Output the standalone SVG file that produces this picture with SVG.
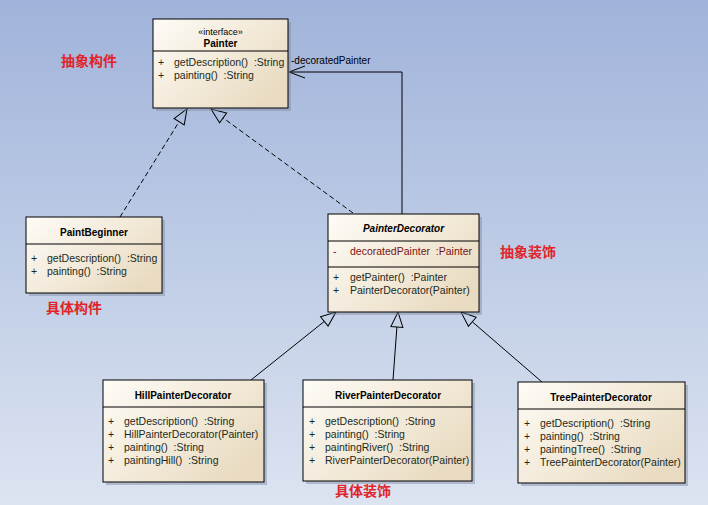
<svg xmlns="http://www.w3.org/2000/svg" width="708" height="505" viewBox="0 0 708 505" xml:space="preserve">
<defs>
<linearGradient id="bg" x1="0" y1="0" x2="0" y2="1">
<stop offset="0" stop-color="#a0b3da"/>
<stop offset="1" stop-color="#dce4f1"/>
</linearGradient>
<linearGradient id="box" x1="0" y1="0" x2="1" y2="0.7">
<stop offset="0" stop-color="#fefcf7"/>
<stop offset="1" stop-color="#e9dbc1"/>
</linearGradient>
<marker id="tri" markerUnits="userSpaceOnUse" markerWidth="18" markerHeight="14" refX="0" refY="7" orient="auto" viewBox="-1 0 18 14">
<path d="M0,1 L15,7 L0,13 Z" fill="none" stroke="#000" stroke-width="1" stroke-dasharray="none"/>
</marker>
<style>
.shadow{fill:#7f8aa0;opacity:0.45}
.b{fill:url(#box);stroke:#000;stroke-width:1}
.d{stroke:#000;stroke-width:1}
.t{font-family:"Liberation Sans",Arial,sans-serif;font-size:10px;font-weight:bold;fill:#000;text-anchor:middle}
.ti{font-family:"Liberation Sans",Arial,sans-serif;font-size:10px;font-weight:bold;font-style:italic;fill:#000;text-anchor:middle}
.s{font-family:"Liberation Sans",Arial,sans-serif;font-size:9px;fill:#000;text-anchor:middle}
.m{font-family:"Liberation Sans",Arial,sans-serif;font-size:10.5px;fill:#1c2a20;white-space:pre}
.a{font-family:"Liberation Sans",Arial,sans-serif;font-size:10.5px;fill:#7a1212;white-space:pre}
.lbl{font-family:"Liberation Sans",Arial,sans-serif;font-size:10px;fill:#000}
.cn{font-family:"Noto Sans CJK SC",sans-serif;font-size:14px;font-weight:bold;fill:#e0242a}
.ln{fill:none;stroke:#000;stroke-width:1}
.dash{stroke-dasharray:5,3}
</style>
</defs>
<rect x="0" y="0" width="708" height="505" fill="url(#bg)"/>

<g id="connectors">
<polyline class="ln" points="402,214 402,72 289,72"/>
<polyline class="ln" points="305,66 289,72 305,78"/>
<text class="lbl" x="291" y="64">-decoratedPainter</text>
<line class="ln dash" x1="120" y1="217" x2="179.1" y2="121.7" marker-end="url(#tri)"/>
<line class="ln dash" x1="353" y1="213" x2="223.1" y2="117.9" marker-end="url(#tri)"/>
<line class="ln" x1="251" y1="380" x2="324.3" y2="321.4" marker-end="url(#tri)"/>
<line class="ln" x1="393" y1="380" x2="396.9" y2="327" marker-end="url(#tri)"/>
<line class="ln" x1="542" y1="382" x2="472.3" y2="321.8" marker-end="url(#tri)"/>
</g>

<g id="Painter">
<rect class="shadow" x="156" y="22" width="135" height="89"/>
<rect class="b" x="153" y="19" width="135" height="89"/>
<line class="d" x1="153" y1="51" x2="288" y2="51"/>
<text class="s" x="220.5" y="35">«interface»</text>
<text class="t" x="220.5" y="47">Painter</text>
<text class="m" x="158" y="66">+</text><text class="m" x="174" y="66">getDescription()  :String</text>
<text class="m" x="158" y="79">+</text><text class="m" x="174" y="79">painting()  :String</text>
</g>

<g id="PaintBeginner">
<rect class="shadow" x="29" y="220" width="136" height="76"/>
<rect class="b" x="26" y="217" width="136" height="76"/>
<line class="d" x1="26" y1="244" x2="162" y2="244"/>
<text class="t" x="94" y="236">PaintBeginner</text>
<text class="m" x="31" y="262">+</text><text class="m" x="47" y="262">getDescription()  :String</text>
<text class="m" x="31" y="275">+</text><text class="m" x="47" y="275">painting()  :String</text>
</g>

<g id="PainterDecorator">
<rect class="shadow" x="331" y="217" width="151" height="98"/>
<rect class="b" x="328" y="214" width="151" height="98"/>
<line class="d" x1="328" y1="241" x2="479" y2="241"/>
<line class="d" x1="328" y1="267" x2="479" y2="267"/>
<text class="ti" x="403.5" y="232">PainterDecorator</text>
<text class="a" x="333" y="255">-</text><text class="a" x="350" y="255">decoratedPainter  :Painter</text>
<text class="m" x="333" y="281">+</text><text class="m" x="350" y="281">getPainter()  :Painter</text>
<text class="m" x="333" y="294">+</text><text class="m" x="350" y="294">PainterDecorator(Painter)</text>
</g>

<g id="HillPainterDecorator">
<rect class="shadow" x="106" y="383" width="161" height="102"/>
<rect class="b" x="103" y="380" width="161" height="102"/>
<line class="d" x1="103" y1="407" x2="264" y2="407"/>
<text class="t" x="183" y="399">HillPainterDecorator</text>
<text class="m" x="108" y="425">+</text><text class="m" x="124" y="425">getDescription()  :String</text>
<text class="m" x="108" y="438">+</text><text class="m" x="124" y="438">HillPainterDecorator(Painter)</text>
<text class="m" x="108" y="451">+</text><text class="m" x="124" y="451">painting()  :String</text>
<text class="m" x="108" y="464">+</text><text class="m" x="124" y="464">paintingHill()  :String</text>
</g>

<g id="RiverPainterDecorator">
<rect class="shadow" x="306" y="383" width="169" height="101"/>
<rect class="b" x="303" y="380" width="169" height="101"/>
<line class="d" x1="303" y1="407" x2="472" y2="407"/>
<text class="t" x="388" y="399">RiverPainterDecorator</text>
<text class="m" x="309" y="425">+</text><text class="m" x="325" y="425">getDescription()  :String</text>
<text class="m" x="309" y="438">+</text><text class="m" x="325" y="438">painting()  :String</text>
<text class="m" x="309" y="451">+</text><text class="m" x="325" y="451">paintingRiver()  :String</text>
<text class="m" x="309" y="464">+</text><text class="m" x="325" y="464">RiverPainterDecorator(Painter)</text>
</g>

<g id="TreePainterDecorator">
<rect class="shadow" x="521" y="385" width="167" height="101"/>
<rect class="b" x="518" y="382" width="167" height="101"/>
<line class="d" x1="518" y1="409" x2="685" y2="409"/>
<text class="t" x="601" y="401">TreePainterDecorator</text>
<text class="m" x="524" y="427">+</text><text class="m" x="540" y="427">getDescription()  :String</text>
<text class="m" x="524" y="440">+</text><text class="m" x="540" y="440">painting()  :String</text>
<text class="m" x="524" y="453">+</text><text class="m" x="540" y="453">paintingTree()  :String</text>
<text class="m" x="524" y="466">+</text><text class="m" x="540" y="466">TreePainterDecorator(Painter)</text>
</g>

<g id="labels">
<text class="cn" x="61" y="66">抽象构件</text>
<text class="cn" x="46" y="313">具体构件</text>
<text class="cn" x="500" y="257">抽象装饰</text>
<text class="cn" x="335" y="496">具体装饰</text>
</g>
</svg>
